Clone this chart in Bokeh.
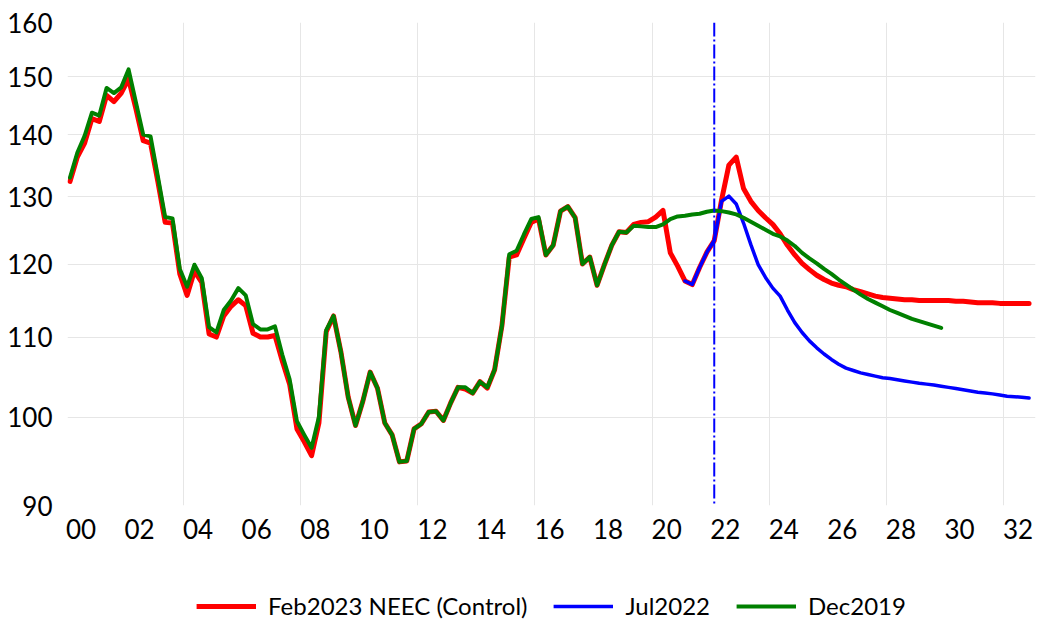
from bokeh.plotting import figure
from bokeh.layouts import column
from bokeh.models import FixedTicker, Range1d, Span, Legend, LegendItem, NumeralTickFormatter
from bokeh.embed import file_html
from bokeh.resources import INLINE

# Quarterly index values, 2000Q1 onwards (x in years since 2000)
red_start = 0
red_vals = [132.4, 136.3, 138.6, 142.7, 142.2, 146.7, 145.6, 147.1, 149.6, 144.4,
            139.0, 138.6, 132.4, 126.1, 126.0, 118.6, 115.6, 119.0, 117.4, 110.4,
            110.0, 112.8, 114.1, 115.0, 114.2, 110.5, 110.0, 110.0, 110.2, 106.9,
            104.0, 98.6, 97.1, 95.5, 99.3, 110.7, 112.8, 108.1, 102.4, 99.0,
            101.9, 105.5, 103.5, 99.3, 97.9, 94.8, 94.9, 98.6, 99.2, 100.6,
            100.7, 99.6, 101.7, 103.6, 103.4, 102.9, 104.3, 103.5, 105.8, 111.5,
            121.0, 121.3, 123.7, 126.1, 126.6, 121.3, 122.7, 127.8, 128.5, 126.8,
            120.0, 121.0, 117.0, 119.9, 122.7, 124.7, 124.6, 125.8, 126.1, 126.2,
            126.9, 127.9, 121.6, 119.7, 117.6, 117.1, 119.5, 121.7, 123.4, 129.5,
            135.0, 136.3, 131.3, 129.3, 127.9, 126.8, 125.8, 124.4, 122.7, 121.3,
            120.1, 119.2, 118.4, 117.8, 117.3, 117.0, 116.8, 116.4, 116.1, 115.8,
            115.5, 115.3, 115.2, 115.1, 115.0, 115.0, 114.9, 114.9, 114.9, 114.9,
            114.9, 114.8, 114.8, 114.7, 114.6, 114.6, 114.6, 114.5, 114.5, 114.5,
            114.5, 114.5]

blue_start = 84
blue_vals = [117.6, 117.1, 119.5, 121.7, 123.4, 129.3, 130.1, 128.9, 126.0, 122.8,
             119.9, 118.1, 116.6, 115.5, 113.6, 111.9, 110.6, 109.5, 108.6, 107.8,
             107.1, 106.5, 106.0, 105.7, 105.4, 105.2, 105.0, 104.8, 104.7, 104.55,
             104.4, 104.25, 104.1, 104.0, 103.9, 103.75, 103.6, 103.45, 103.3, 103.15,
             103.0, 102.9, 102.8, 102.65, 102.5, 102.45, 102.4, 102.3]

green_start = 0
green_vals = [133.0, 137.0, 139.8, 143.7, 143.2, 148.0, 147.1, 148.1, 151.3, 145.5,
              140.0, 139.7, 133.2, 126.9, 126.7, 119.3, 116.8, 119.9, 118.0, 111.3,
              110.6, 113.6, 114.9, 116.6, 115.6, 111.7, 111.0, 111.0, 111.4, 107.7,
              104.6, 99.5, 97.9, 96.4, 100.0, 110.9, 112.8, 108.1, 102.4, 99.0,
              101.9, 105.5, 103.5, 99.3, 97.9, 94.8, 94.9, 98.6, 99.2, 100.6,
              100.7, 99.6, 101.7, 103.6, 103.6, 102.9, 104.3, 103.6, 105.8, 111.5,
              121.4, 121.9, 124.3, 126.6, 126.9, 121.3, 122.7, 127.8, 128.5, 126.8,
              120.0, 121.0, 117.0, 119.9, 122.7, 124.7, 124.6, 125.6, 125.5, 125.4,
              125.4, 125.8, 126.6, 127.0, 127.1, 127.3, 127.4, 127.7, 127.9, 127.8,
              127.6, 127.3, 126.8, 126.2, 125.6, 125.0, 124.4, 124.0, 123.4, 122.6,
              121.6, 120.8, 120.1, 119.3, 118.6, 117.8, 117.1, 116.4, 115.7, 115.1,
              114.6, 114.1, 113.6, 113.2, 112.8, 112.4, 112.1, 111.8, 111.5, 111.2]

series_names = ["Feb2023 NEEC (Control)", "Jul2022", "Dec2019"]
series_colors = ["#FF0000", "#0000FF", "#008000"]
series_widths = [5, 3.5, 4]

label_years = list(range(0, 33, 2))
x_labels = ["%02d" % y for y in label_years]
y_ticks = [90, 100, 110, 120, 130, 140, 150, 160]
y_grid = [100, 110, 120, 130, 140, 150]
grid_years = [4, 8, 12, 16, 20, 24, 28, 32]
forecast_line = 22.0

FONT = "Lato"


def xs(start, n):
    return [(start + i) * 0.25 for i in range(n)]


p = figure(width=1037, height=560, output_backend="svg", toolbar_location=None,
           y_axis_type="log", x_range=Range1d(-0.085, 32.97), y_range=Range1d(90, 160),
           min_border_left=67, min_border_right=2, min_border_top=22, min_border_bottom=55)
p.outline_line_color = None
p.background_fill_color = "white"

r_red = p.line(xs(red_start, len(red_vals)), red_vals, line_color=series_colors[0],
               line_width=series_widths[0], line_join="round", line_cap="round")
r_blue = p.line(xs(blue_start, len(blue_vals)), blue_vals, line_color=series_colors[1],
                line_width=series_widths[1], line_join="round", line_cap="round")
r_green = p.line(xs(green_start, len(green_vals)), green_vals, line_color=series_colors[2],
                 line_width=series_widths[2], line_join="round", line_cap="round")

p.add_layout(Span(location=forecast_line, dimension="height", line_color="#0000FF",
                  line_width=2, line_dash="14 3 2 3"))

# x axis
p.xaxis.ticker = FixedTicker(ticks=[y + 0.375 for y in label_years])
p.xaxis.major_label_overrides = {y + 0.375: lab for y, lab in zip(label_years, x_labels)}
p.xaxis.axis_line_color = None
p.xaxis.major_tick_line_color = None
p.xaxis.minor_tick_line_color = None
p.xaxis.major_tick_out = 0
p.xaxis.major_label_standoff = 13
p.xaxis.major_label_text_font = FONT
p.xaxis.major_label_text_font_size = "26px"
p.xaxis.major_label_text_color = "black"

# y axis
p.yaxis.ticker = FixedTicker(ticks=y_ticks)
p.yaxis.formatter = NumeralTickFormatter(format="0")
p.yaxis.axis_line_color = None
p.yaxis.major_tick_line_color = None
p.yaxis.minor_tick_line_color = None
p.yaxis.major_tick_out = 0
p.yaxis.major_label_standoff = 15
p.yaxis.major_label_text_font = FONT
p.yaxis.major_label_text_font_size = "26px"
p.yaxis.major_label_text_color = "black"

p.xgrid.ticker = FixedTicker(ticks=[g - 0.125 for g in grid_years])
p.ygrid.ticker = FixedTicker(ticks=y_grid)
p.xgrid.grid_line_color = "#E6E6E6"
p.ygrid.grid_line_color = "#E6E6E6"
p.xgrid.grid_line_width = 1
p.ygrid.grid_line_width = 1

# legend strip below the chart (its own tiny figure; sample lines lie outside its range)
pl = figure(width=1037, height=61, output_backend="svg", toolbar_location=None,
            x_range=Range1d(0, 1), y_range=Range1d(0, 1),
            min_border_left=67, min_border_right=2, min_border_top=0, min_border_bottom=0)
pl.outline_line_color = None
pl.axis.visible = False
pl.grid.visible = False
dummies = [pl.line([-10, -9], [-10, -9], line_color=c, line_width=w, line_cap="butt")
           for c, w in zip(series_colors, series_widths)]

legend = Legend(items=[LegendItem(label=n, renderers=[r]) for n, r in zip(series_names, dummies)],
                orientation="horizontal", location="bottom_center")
legend.label_text_font = FONT
legend.label_text_font_size = "24px"
legend.label_text_color = "black"
legend.glyph_width = 60
legend.glyph_height = 20
legend.label_standoff = 12
legend.spacing = 26
legend.padding = 0
legend.margin = 1
legend.border_line_color = None
legend.background_fill_alpha = 0
pl.add_layout(legend, "center")

layout = column(p, pl, spacing=0)
open("out.html", "w").write(file_html(layout, INLINE))
